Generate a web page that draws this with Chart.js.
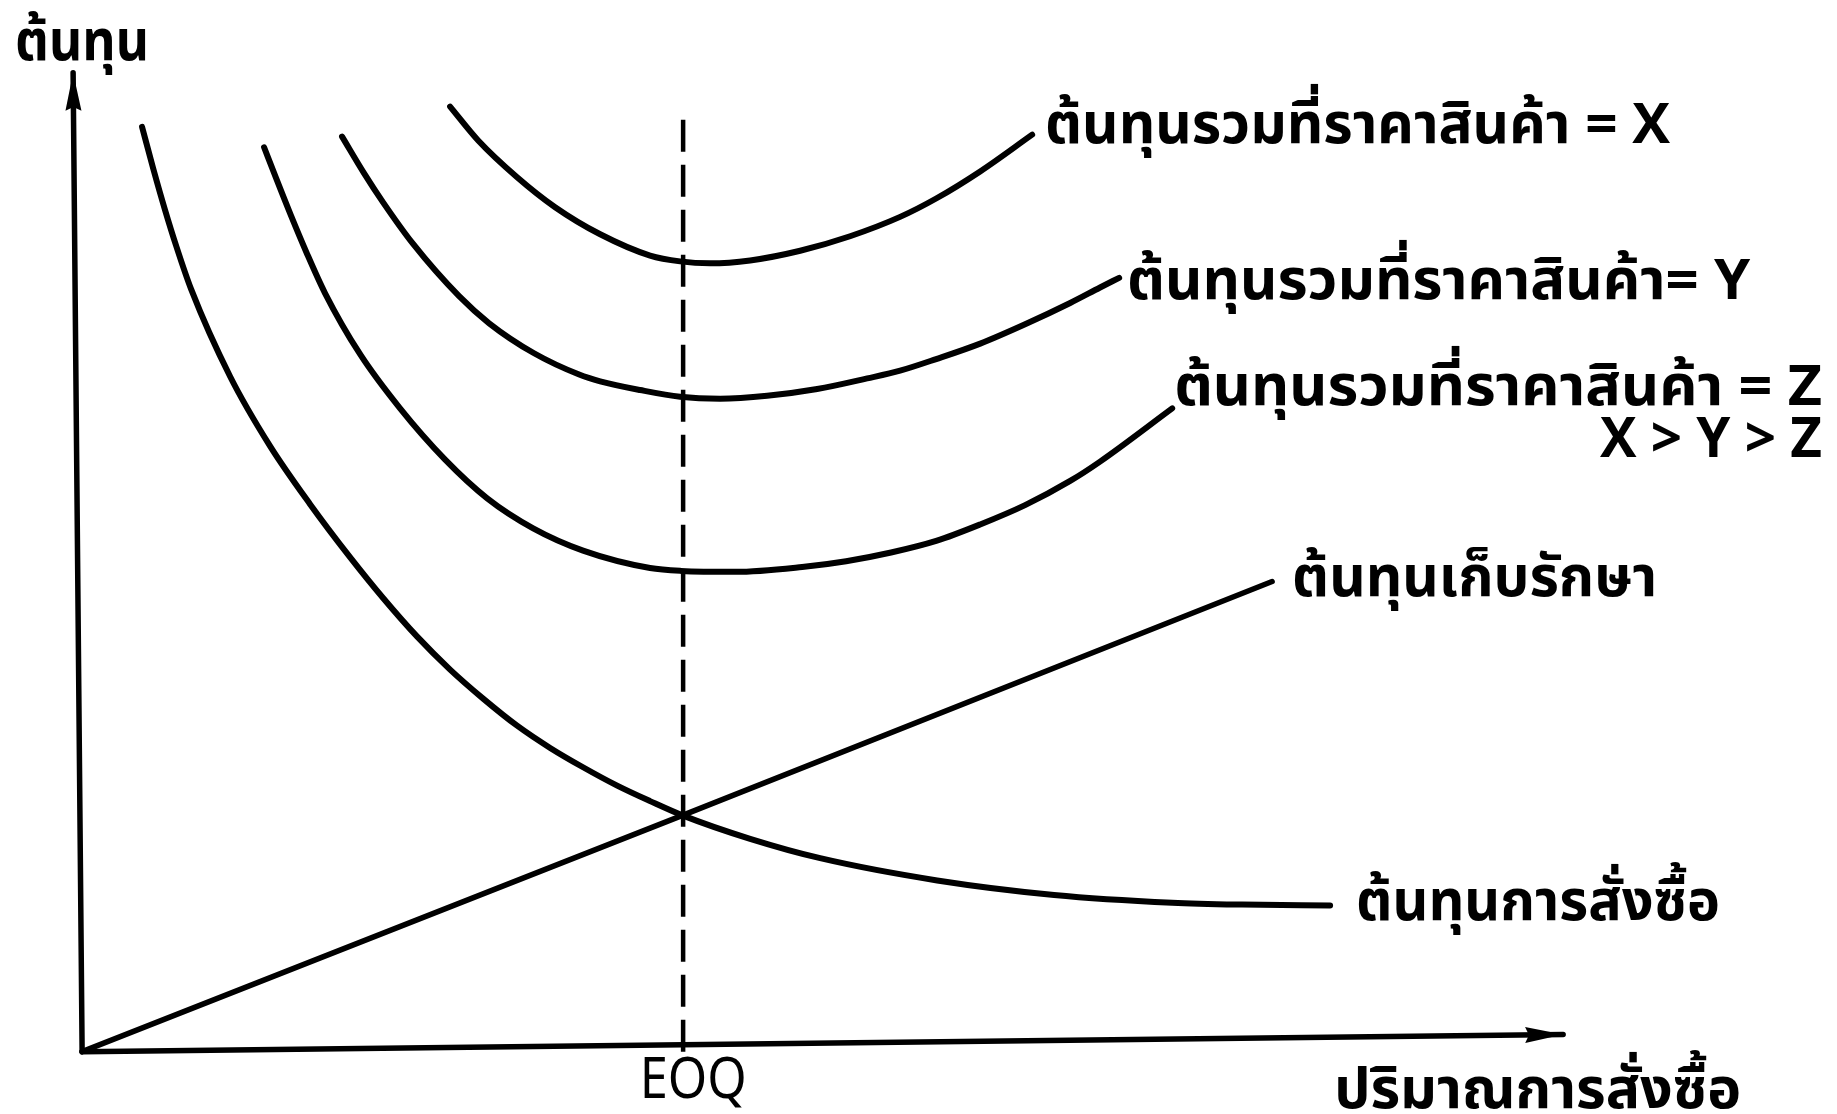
<!DOCTYPE html>
<html lang="th">
<head>
<meta charset="utf-8">
<title>EOQ</title>
<script src="https://cdn.jsdelivr.net/npm/chart.js@4.4.1/dist/chart.umd.min.js"></script>
<style>
  html, body { margin: 0; padding: 0; background: #fff; }
  #wrap { width: 1837px; height: 1114px; }
</style>
</head>
<body>
<div id="wrap"><canvas id="eoqChart"></canvas></div>
<script>
// quantity and cost in arbitrary units, EOQ sits at 40
const eoq_value = 40;
const eoq_top = 97.2;

const ordering_x = [3.99, 4.73, 5.52, 6.26, 7.26, 9.85, 12.51, 15.17, 17.84, 20.03, 22.30, 24.49, 26.69, 28.95, 31.15, 33.34, 35.61, 37.80, 40.00, 44.46, 49.12, 56.91, 64.69, 72.55, 77.20, 83.06];
const ordering_y = [95.6, 91.3, 87.0, 83.3, 78.8, 69.8, 62.6, 56.6, 51.1, 46.9, 42.9, 39.5, 36.5, 33.7, 31.4, 29.4, 27.5, 25.9, 24.4, 22.0, 20.0, 17.7, 16.2, 15.4, 15.2, 15.1];

const holding_x = [0, 40, 79.2];
const holding_y = [0, 24.45, 48.6];

const totalX_x = [24.49, 26.36, 28.95, 31.48, 34.48, 37.80, 39.80, 41.80, 44.46, 47.79, 51.11, 54.44, 56.84, 59.77, 63.23];
const totalX_y = [97.7, 94.2, 90.4, 87.3, 84.5, 82.3, 81.7, 81.5, 81.8, 82.8, 84.3, 86.3, 88.2, 91.0, 94.8];

const totalY_x = [17.30, 18.77, 20.03, 22.03, 25.09, 27.09, 30.08, 33.08, 34.48, 37.14, 39.80, 42.46, 45.59, 48.92, 52.25, 54.44, 56.84, 59.77, 62.76, 65.76, 67.75, 69.02];
const totalY_y = [94.6, 90.8, 87.8, 83.5, 78.1, 75.3, 72.2, 70.0, 69.3, 68.4, 67.7, 67.5, 67.8, 68.5, 69.6, 70.4, 71.6, 73.2, 75.2, 77.4, 79.0, 80.0];

const totalZ_x = [12.11, 12.91, 13.91, 14.91, 16.17, 18.50, 21.16, 24.16, 26.96, 30.02, 33.34, 37.80, 39.87, 43.46, 47.92, 50.85, 53.84, 56.84, 59.77, 62.76, 65.76, 67.75, 72.55];
const totalZ_y = [93.5, 90.3, 86.4, 82.7, 78.4, 72.1, 66.5, 61.2, 57.2, 54.1, 51.8, 50.0, 49.7, 49.6, 50.1, 50.7, 51.6, 52.8, 54.5, 56.5, 59.0, 61.0, 66.5];

// axes drawn as lines (the scan is slightly tilted)
const axisX_x = [0, 98.57];
const axisX_y = [0, 1.76];
const axisY_x = [0, -0.6];
const axisY_y = [0, 101.2];

const label_texts = [
  "ต้นทุน",
  "ต้นทุนรวมที่ราคาสินค้า = X",
  "ต้นทุนรวมที่ราคาสินค้า= Y",
  "ต้นทุนรวมที่ราคาสินค้า = Z",
  "X > Y > Z",
  "ต้นทุนเก็บรักษา",
  "ต้นทุนการสั่งซื้อ",
  "ปริมาณการสั่งซื้อ",
  "EOQ"
];

const thai_font = "'Noto Sans Thai', 'Noto Sans', 'DejaVu Sans', sans-serif";

// where each label goes (data units) and how wide it is drawn
const label_place = [
  { x: -4.46, y: 102.56, align: "left", w: 134, bold: true },
  { x: 64.09, y: 93.97, align: "left", w: 625, bold: true },
  { x: 69.55, y: 77.85, align: "left", w: 623, bold: true },
  { x: 72.68, y: 66.89, align: "left", w: 648, bold: true },
  { x: 115.8, y: 61.51, align: "right", w: 222, bold: true },
  { x: 80.53, y: 47.14, align: "left", w: 365, bold: true },
  { x: 84.79, y: 13.65, align: "left", w: 364, bold: true },
  { x: 83.33, y: -5.79, align: "left", w: 407, bold: true },
  { x: 40.67, y: -4.76, align: "center", w: 107, bold: false }
];

function pts(xs, ys) {
  return xs.map((v, i) => ({ x: v, y: ys[i] }));
}

function curve(data) {
  return {
    data: data,
    borderColor: "#000",
    borderWidth: 6,
    cubicInterpolationMode: "monotone",
    borderCapStyle: "round",
    pointRadius: 0,
    fill: false,
  };
}

const arrowPlugin = {
  id: "arrows",
  afterDatasetsDraw(chart) {
    const ctx = chart.ctx;
    chart.data.datasets.forEach((ds, i) => {
      if (!ds.arrow) return;
      const pts = chart.getDatasetMeta(i).data;
      const a = pts[pts.length - 2], b = pts[pts.length - 1];
      const ang = Math.atan2(b.y - a.y, b.x - a.x);
      const len = 38, half = 8;
      ctx.save();
      ctx.translate(b.x, b.y);
      ctx.rotate(ang);
      ctx.beginPath();
      ctx.moveTo(0, 0);
      ctx.lineTo(-len, -half);
      ctx.lineTo(-len * 0.9, 0);
      ctx.lineTo(-len, half);
      ctx.closePath();
      ctx.fillStyle = "#000";
      ctx.fill();
      ctx.restore();
    });
  }
};

const labelPlugin = {
  id: "labels",
  afterDraw(chart) {
    const ctx = chart.ctx;
    const sx = chart.scales.x, sy = chart.scales.y;
    label_texts.forEach((t, i) => {
      const p = label_place[i];
      const px = sx.getPixelForValue(p.x);
      const py = sy.getPixelForValue(p.y);
      ctx.save();
      ctx.font = (p.bold ? "bold " : "") + "56px " + thai_font;
      ctx.fillStyle = "#000";
      ctx.textBaseline = "alphabetic";
      const m = ctx.measureText(t).width;
      const k = p.w / m;
      let left = px;
      if (p.align === "right") left = px - p.w;
      if (p.align === "center") left = px - p.w / 2;
      ctx.translate(left, py);
      ctx.scale(k, 1);
      ctx.textAlign = "left";
      ctx.fillText(t, 0, 0);
      ctx.restore();
    });
  }
};

new Chart(document.getElementById("eoqChart"), {
  type: "line",
  data: {
    datasets: [
      Object.assign(curve(pts(axisX_x, axisX_y)), { cubicInterpolationMode: "default", tension: 0, borderWidth: 5.5, arrow: true }),
      Object.assign(curve(pts(axisY_x, axisY_y)), { cubicInterpolationMode: "default", tension: 0, borderWidth: 5.5, arrow: true }),
      Object.assign(curve(pts([eoq_value, eoq_value], [0, eoq_top])), { cubicInterpolationMode: "default", tension: 0, borderWidth: 4.5, borderDash: [32, 13], borderCapStyle: "butt" }),
      Object.assign(curve(pts(holding_x, holding_y)), { cubicInterpolationMode: "default", tension: 0, borderWidth: 5.5 }),
      curve(pts(ordering_x, ordering_y)),
      curve(pts(totalZ_x, totalZ_y)),
      curve(pts(totalY_x, totalY_y)),
      curve(pts(totalX_x, totalX_y)),
    ],
  },
  options: {
    responsive: true,
    maintainAspectRatio: false,
    animation: false,
    layout: { padding: { left: 7, right: 27, top: 36, bottom: 14 } },
    scales: {
      x: { type: "linear", min: -5, max: 115, display: false },
      y: { type: "linear", min: -5, max: 105, display: false },
    },
    plugins: {
      legend: { display: false },
      tooltip: { enabled: false },
    },
  },
  plugins: [arrowPlugin, labelPlugin],
});
</script>
</body>
</html>
